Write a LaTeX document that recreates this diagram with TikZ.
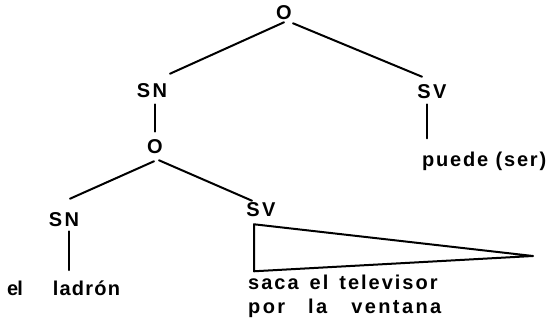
\documentclass[tikz,border=0pt]{standalone}
\usepackage{fontspec}
\setmainfont{Liberation Sans}[LetterSpace=12]
\begin{document}
\begin{tikzpicture}[x=1pt,y=-1pt,
  every node/.style={inner sep=0pt,font=\fontsize{20}{22}\bfseries\selectfont},
  lab/.style={anchor=center},
  txt/.style={anchor=base west},
  edge/.style={line width=2pt,line cap=round,line join=round}]
\useasboundingbox (0,0) rectangle (550,321);
\node[lab] (O) at (284,13) {O};
\node[lab] (SN) at (152,91) {SN};
\node[lab] (SV) at (432,92) {SV};
\node[lab] (O2) at (155,147) {O};
\node[lab] (SN2) at (64,220) {SN};
\node[lab] (SV2) at (261,210) {SV};
\node[txt] (puede) at (422,167) {\addfontfeature{LetterSpace=9}puede (ser)};
\node[txt] (ladron) at (7,295) {e\kern-1pt l\hspace{30pt}\addfontfeature{LetterSpace=6}ladrón};
\node[txt] (saca) at (248,290) {\addfontfeature{LetterSpace=10}saca\hspace{11pt}el\hspace{11pt}televisor};
\node[txt] (por) at (248,313) {por\hspace{23pt}la\hspace{24pt}ventana};
\coordinate (tip) at (533,256);
\draw[edge] ([yshift=-2pt]O.south) -- ([xshift=18pt,yshift=10pt]SN.north);
\draw[edge] ([xshift=9pt,yshift=-3pt]O.south) -- ([xshift=-10pt,yshift=8pt]SV.north);
\draw[edge] ([xshift=3pt,yshift=-6pt]SN.south) -- ([yshift=8pt]O2.north);
\draw[edge] ([xshift=-1pt,yshift=-7pt]O2.south) -- ([xshift=6pt,yshift=14pt]SN2.north);
\draw[edge] ([xshift=4pt,yshift=-6pt]O2.south) -- ([xshift=-9pt,yshift=2pt]SV2.north);
\draw[edge] ([xshift=5pt,yshift=-4pt]SN2.south) -- ([xshift=62pt,yshift=10pt]ladron.north west);
\draw[edge] ([xshift=-5pt,yshift=-5pt]SV.south) -- ([xshift=5pt,yshift=14pt]puede.north west);
\draw[edge] ([xshift=-7pt,yshift=-7pt]SV2.south) -- (tip) -- ([xshift=-7pt,yshift=-54pt]SV2.south) -- cycle;
\end{tikzpicture}
\end{document}
